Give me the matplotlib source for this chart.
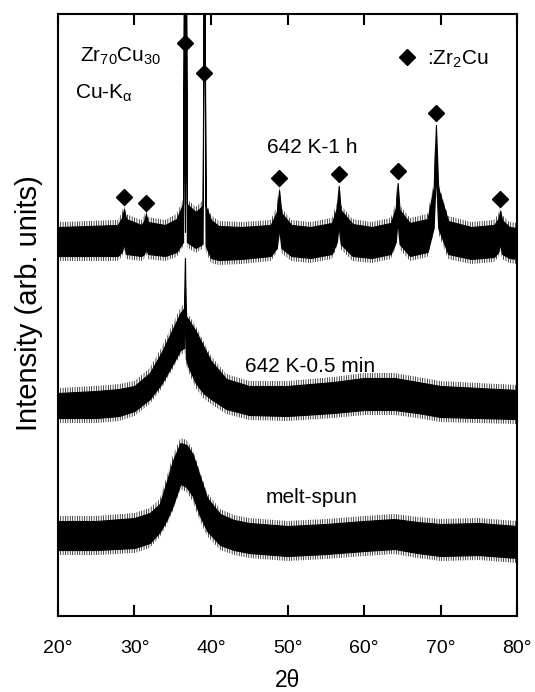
import matplotlib
matplotlib.use("Agg")
import matplotlib.pyplot as plt

plt.rcParams["font.family"] = ["Liberation Sans", "DejaVu Sans"]
plt.rcParams["mathtext.fontset"] = "custom"
plt.rcParams["mathtext.rm"] = "Liberation Sans"
plt.rcParams["mathtext.it"] = "Liberation Sans"
plt.rcParams["hatch.linewidth"] = 0.5

# 2-theta positions (deg) and intensity envelopes (arb. units)
# 642 K - 1 h (crystallised)
x_1h = [20, 24, 27.8, 28.35, 28.63, 28.9, 30.9, 31.25, 31.5, 31.75, 34.0, 35.5, 36.35,
        36.5, 36.6, 36.7, 36.85, 38.0, 38.9, 39.1, 39.3, 40.0, 41.0, 44.0, 47.8, 48.6,
        48.9, 49.2, 50.5, 53.0, 55.8, 56.45, 56.7, 56.95, 58.5, 61.0, 63.5, 64.15, 64.4,
        64.65, 66.0, 68.3, 69.1, 69.4, 69.7, 71.0, 74.0, 77.0, 77.55, 77.8, 78.05, 79.0, 80.0]
hi_1h = [389, 390, 391, 398, 407, 397, 391, 395, 402, 394, 391, 397, 412,
         720, 402, 720, 412, 404, 410, 720, 410, 396, 390, 389, 391, 404,
         426, 403, 391, 389, 393, 408, 430, 406, 392, 389, 393, 408, 433,
         406, 393, 397, 428, 491, 428, 395, 389, 391, 397, 405, 396, 389, 388]
lo_1h = [360, 360, 360, 364, 372, 362, 360, 362, 368, 362, 360, 364, 374,
         700, 384, 700, 374, 368, 372, 700, 370, 358, 356, 357, 360, 368,
         388, 368, 360, 358, 362, 374, 392, 372, 360, 358, 362, 374, 397,
         372, 360, 364, 388, 445, 388, 362, 357, 359, 364, 372, 362, 358, 357]

# 642 K - 0.5 min
x_05 = [20, 25, 28, 30, 32, 33.5, 35, 36, 36.5, 36.6, 36.7, 37, 38, 39, 40, 42, 45,
        50, 56, 60, 64, 67, 70, 75, 80]
hi_05 = [223, 225, 227, 230, 243, 263, 287, 303, 308, 358, 300, 297, 285, 270, 255, 237,
         230, 230, 234, 238, 238, 234, 230, 228, 226]
lo_05 = [198, 198, 200, 205, 217, 232, 252, 266, 268, 330, 258, 250, 233, 223, 217, 207,
         201, 200, 203, 206, 206, 203, 199, 198, 197]

# melt-spun
x_ms = [20, 25, 30, 32, 33.3, 34.2, 35, 36, 36.8, 37.6, 38.5, 39.5, 41.2, 43, 45, 50, 55,
        60, 64, 67, 70, 75, 80]
hi_ms = [95, 95, 98, 103, 112, 134, 155, 173, 171, 162, 141, 118, 102, 96, 93, 90, 92,
         95, 97, 94, 92, 93, 90]
lo_ms = [66, 66, 68, 73, 84, 96, 110, 132, 129, 120, 101, 85, 71, 66, 63, 60, 62,
         65, 67, 63, 60, 61, 58]

# Zr2Cu peak markers
peak_x = [28.63, 31.5, 36.6, 39.1, 48.9, 56.7, 64.4, 69.4, 77.8]
peak_y = [419, 413, 573, 543, 438, 442, 445, 503, 417]

xticks = [20, 30, 40, 50, 60, 70, 80]
xtick_labels = ["20°", "30°", "40°", "50°", "60°", "70°", "80°"]

fig = plt.figure(figsize=(5.35, 6.92), dpi=100)
ax = fig.add_axes([0.1084, 0.1098, 0.858, 0.870])

halo = 5  # fuzzy noise fringe around each band
for xs, hi, lo in [(x_1h, hi_1h, lo_1h), (x_05, hi_05, lo_05), (x_ms, hi_ms, lo_ms)]:
    ax.fill_between(xs, [v - halo for v in lo], [v + halo for v in hi],
                    facecolor="none", edgecolor="black", hatch="|" * 7, linewidth=0)
    ax.fill_between(xs, lo, hi, color="black", linewidth=0.8, edgecolor="black")

ax.plot(peak_x, peak_y, "D", color="black", markersize=8.5, clip_on=False)
ax.plot([65.6], [559], "D", color="black", markersize=8.5)

ax.text(22.9, 554, r"Zr$_{70}$Cu$_{30}$", fontsize=15, va="baseline")
ax.text(22.2, 517, r"Cu-K$_{\mathrm{α}}$", fontsize=15, va="baseline")
ax.text(68.2, 551, r":Zr$_{2}$Cu", fontsize=15, va="baseline")
ax.text(47.3, 463, "642 K-1 h", fontsize=15, va="baseline")
ax.text(44.4, 244, "642 K-0.5 min", fontsize=15, va="baseline")
ax.text(47.1, 113, "melt-spun", fontsize=15, va="baseline")

ax.set_xlim(20, 80)
ax.set_ylim(0, 602)
ax.set_xticks(xticks)
ax.set_xticklabels(xtick_labels, fontsize=14)
ax.set_yticks([])
ax.tick_params(axis="x", direction="in", length=8, width=1.5, top=True, pad=17)
for s in ax.spines.values():
    s.set_linewidth(1.5)

ax.set_xlabel("2θ", fontsize=16.5, labelpad=9)
fig.text(29 / 535, 1 - 303 / 692, "Intensity (arb. units)", rotation=90,
         ha="center", va="center", fontsize=21)

fig.savefig("out.png", dpi=100)
